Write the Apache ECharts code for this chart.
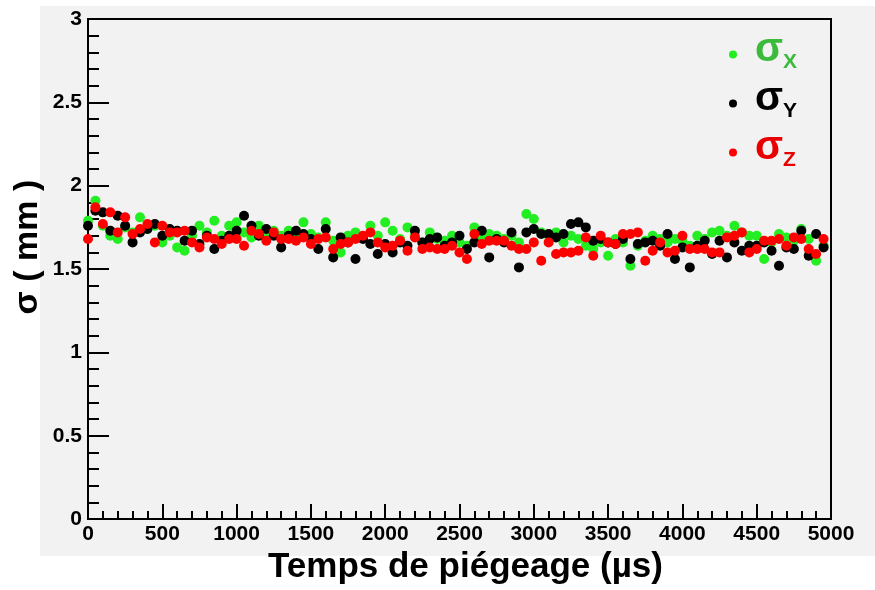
<!DOCTYPE html>
<html>
<head>
<meta charset="utf-8">
<script src="https://cdn.jsdelivr.net/npm/echarts@6/dist/echarts.min.js"></script>
<style>html,body{margin:0;padding:0;background:#fff}#c{width:875px;height:590px}</style>
</head>
<body>
<div id="c"></div>
<script>
var times = [0,50,100,150,200,250,300,350,400,450,500,550,600,650,700,750,800,850,900,950,
1000,1050,1100,1150,1200,1250,1300,1350,1400,1450,1500,1550,1600,1650,1700,1750,1800,1850,1900,1950,
2000,2050,2100,2150,2200,2250,2300,2350,2400,2450,2500,2550,2600,2650,2700,2750,2800,2850,2900,2950,
3000,3050,3100,3150,3200,3250,3300,3350,3400,3450,3500,3550,3600,3650,3700,3750,3800,3850,3900,3950,
4000,4050,4100,4150,4200,4250,4300,4350,4400,4450,4500,4550,4600,4650,4700,4750,4800,4850,4900,4950];

var sigmaX = [1.79,1.91,1.76,1.70,1.68,1.75,1.72,1.81,1.74,1.76,1.66,1.70,1.63,1.61,1.70,1.76,1.72,1.79,1.70,1.76,
1.78,1.72,1.69,1.76,1.70,1.73,1.70,1.73,1.70,1.78,1.71,1.69,1.78,1.67,1.60,1.70,1.72,1.69,1.76,1.70,
1.78,1.73,1.68,1.75,1.70,1.66,1.72,1.68,1.67,1.70,1.66,1.64,1.75,1.69,1.71,1.70,1.68,1.70,1.66,1.83,
1.80,1.72,1.70,1.72,1.66,1.70,1.68,1.64,1.62,1.66,1.58,1.68,1.66,1.52,1.64,1.67,1.70,1.68,1.66,1.68,
1.67,1.64,1.70,1.68,1.72,1.73,1.70,1.76,1.72,1.70,1.70,1.56,1.66,1.71,1.69,1.67,1.74,1.68,1.55,1.64];

var sigmaY = [1.76,1.85,1.84,1.73,1.82,1.76,1.66,1.72,1.74,1.77,1.70,1.74,1.73,1.67,1.73,1.65,1.70,1.62,1.67,1.70,
1.73,1.82,1.76,1.70,1.74,1.70,1.63,1.70,1.73,1.71,1.68,1.62,1.74,1.57,1.69,1.66,1.56,1.68,1.65,1.59,
1.65,1.60,1.66,1.64,1.73,1.66,1.68,1.69,1.64,1.66,1.70,1.62,1.66,1.73,1.57,1.68,1.66,1.72,1.51,1.72,
1.74,1.71,1.71,1.69,1.71,1.77,1.78,1.75,1.67,1.68,1.66,1.65,1.68,1.56,1.65,1.66,1.67,1.64,1.71,1.56,
1.63,1.51,1.64,1.67,1.59,1.67,1.57,1.66,1.61,1.64,1.64,1.66,1.61,1.52,1.63,1.62,1.73,1.58,1.71,1.63];

var sigmaZ = [1.68,1.87,1.77,1.84,1.72,1.81,1.71,1.74,1.77,1.66,1.76,1.72,1.72,1.73,1.66,1.63,1.69,1.68,1.65,1.68,
1.68,1.64,1.73,1.71,1.67,1.72,1.68,1.68,1.67,1.69,1.65,1.68,1.69,1.62,1.65,1.66,1.68,1.70,1.72,1.66,
1.63,1.64,1.67,1.61,1.69,1.62,1.63,1.62,1.62,1.64,1.60,1.56,1.71,1.65,1.67,1.67,1.67,1.64,1.62,1.62,
1.66,1.55,1.66,1.59,1.60,1.60,1.61,1.69,1.58,1.70,1.66,1.65,1.71,1.71,1.72,1.55,1.61,1.66,1.60,1.61,
1.70,1.62,1.62,1.62,1.60,1.60,1.69,1.70,1.72,1.60,1.62,1.67,1.67,1.68,1.64,1.69,1.68,1.62,1.59,1.68];

var xTitle = 'Temps de piégeage (µs)';
var yTitle = 'σ ( mm )';
var seriesNames = ['σX', 'σY', 'σZ'];
var subs = ['X', 'Y', 'Z'];

function pairs(vals) {
  var out = [];
  for (var i = 0; i < vals.length; i++) out.push([times[i], vals[i]]);
  return out;
}

var FONT = '"Liberation Sans", Arial, Helvetica, sans-serif';
var markerColors = ['#22ee22', '#000000', '#ff0000'];
var textColors = ['#3cba3c', '#000000', '#e80000'];
var legendTops = [29, 78, 127];

var legends = seriesNames.map(function (n, i) {
  return {
    data: [{name: n, icon: 'circle'}],
    left: 729,
    top: legendTops[i],
    padding: 0,
    itemWidth: 8,
    itemHeight: 8,
    selectedMode: false,
    formatter: function () { return '{s|σ}{b|' + subs[i] + '}'; },
    textStyle: {
      color: textColors[i],
      rich: {
        s: {fontSize: 41, fontWeight: 'bold', fontFamily: FONT, color: textColors[i], lineHeight: 40, padding: [0, 0, 10, 13]},
        b: {fontSize: 21, fontWeight: 'bold', fontFamily: FONT, color: textColors[i], lineHeight: 21, padding: [16, 0, 0, 0]}
      }
    }
  };
});

var chart = echarts.init(document.getElementById('c'), null, {renderer: 'canvas'});
chart.setOption({
  animation: false,
  backgroundColor: '#ffffff',
  graphic: [{
    type: 'rect', z: -10, silent: true,
    shape: {x: 40, y: 6, width: 835, height: 550},
    style: {fill: '#f2f2f2'}
  }],
  grid: {left: 88, top: 19, right: 44, bottom: 70, show: true, backgroundColor: '#f2f2f2', borderColor: '#000', borderWidth: 2},
  legend: legends,
  xAxis: {
    type: 'value', min: 0, max: 5000, interval: 500,
    name: xTitle, nameLocation: 'middle', nameGap: 28,
    nameTextStyle: {fontSize: 35, fontWeight: 'bold', fontFamily: FONT, color: '#000', padding: [0, 0, 0, 12]},
    axisLine: {show: true, lineStyle: {color: '#000', width: 2}},
    axisTick: {show: true, inside: true, length: 15, lineStyle: {color: '#000', width: 2}},
    minorTick: {show: true, splitNumber: 5, length: 8, lineStyle: {color: '#000', width: 2}},
    axisLabel: {fontSize: 21, fontWeight: 'bold', fontFamily: FONT, color: '#000', margin: 5,
      formatter: function (v) { return String(v); }},
    splitLine: {show: false}
  },
  yAxis: {
    type: 'value', min: 0, max: 3, interval: 0.5,
    name: yTitle, nameLocation: 'middle', nameGap: 43, nameMoveOverlap: false,
    nameTextStyle: {fontSize: 34, fontWeight: 'bold', fontFamily: FONT, color: '#000', padding: [0, 0, 0, 44]},
    axisLine: {show: true, lineStyle: {color: '#000', width: 2}},
    axisTick: {show: true, inside: true, length: 21, lineStyle: {color: '#000', width: 2}},
    minorTick: {show: true, splitNumber: 5, length: 11, lineStyle: {color: '#000', width: 2}},
    axisLabel: {fontSize: 21, fontWeight: 'bold', fontFamily: FONT, color: '#000', margin: 6,
      formatter: function (v) { return String(v); }},
    splitLine: {show: false}
  },
  series: [
    {name: seriesNames[0], type: 'scatter', data: pairs(sigmaX), symbolSize: 10, itemStyle: {color: markerColors[0], opacity: 1}, z: 2},
    {name: seriesNames[1], type: 'scatter', data: pairs(sigmaY), symbolSize: 10, itemStyle: {color: markerColors[1], opacity: 1}, z: 3},
    {name: seriesNames[2], type: 'scatter', data: pairs(sigmaZ), symbolSize: 10, itemStyle: {color: markerColors[2], opacity: 1}, z: 4}
  ]
});
</script>
</body>
</html>
